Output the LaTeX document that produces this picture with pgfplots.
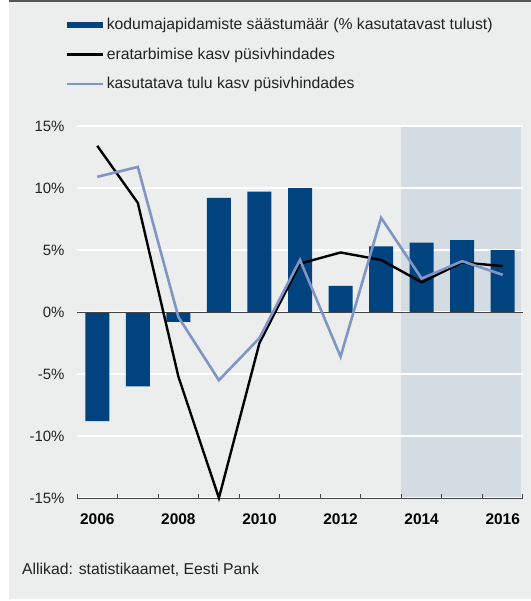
\documentclass[border=0pt]{standalone}
\usepackage{pgfplots}
\pgfplotsset{compat=1.18}
\usepackage{fontspec}
\setmainfont{Liberation Sans}
\definecolor{bgcol}{HTML}{ECEDED}
\definecolor{shadecol}{HTML}{D3DBE3}
\definecolor{barblue}{HTML}{00437F}
\definecolor{lineblue}{HTML}{8195C5}
\definecolor{topbar}{HTML}{555555}
\definecolor{axisgray}{HTML}{444444}
\definecolor{txt}{HTML}{222222}
\pgfplotsset{common/.style={
  at={(77bp,-498bp)}, anchor=south west,
  scale only axis, width=446bp, height=372bp,
  xmin=2005.5, xmax=2016.5, ymin=-15, ymax=15}}
\begin{document}
\begin{tikzpicture}[x=1bp,y=1bp]
\fill[white] (0,0) rectangle (531,-601);
\fill[bgcol] (9,-2) rectangle (531,-599);
\fill[topbar] (9,0) rectangle (531,-2.5);
% forecast band behind the grid
\begin{axis}[common, hide axis]
\fill[shadecol] (axis cs:2013.5,-15) rectangle (axis cs:2016.46,15);
\end{axis}
\begin{axis}[
  common,
  clip=false,
  axis x line*=bottom, axis y line*=left,
  x axis line style={draw=axisgray, line width=1bp, -},
  y axis line style={draw=none},
  ytick={-15,-10,-5,0,5,10,15},
  yticklabels={-15\%,-10\%,-5\%,0\%,5\%,10\%,15\%},
  ytick style={draw=none},
  yticklabel style={font=\fontsize{15}{18}\selectfont, text=txt, xshift=-9bp},
  ymajorgrids, major grid style={white, line width=1.2bp},
  xtick={2006,2008,2010,2012,2014,2016},
  xticklabels={2006,2008,2010,2012,2014,2016},
  major x tick style={draw=none},
  minor xtick={2005.5,2006.5,...,2016.5},
  minor x tick style={axisgray, line width=1bp},
  minor tick length=4bp, tick align=inside,
  xticklabel style={font=\fontsize{15.5}{18}\selectfont\bfseries, text=black, yshift=-12bp},
  legend cell align=left,
  legend style={at={(-0.0258,1.296)}, anchor=north west, draw=none, fill=none,
    inner sep=0pt, row sep=11.5bp, font=\fontsize{15.8}{18}\selectfont, text=txt,
    nodes={inner sep=2.5bp}},
]
\addplot[ybar, bar width=24bp, fill=barblue, draw=none,
  legend image code/.code={\fill[barblue] (0bp,-3bp) rectangle (36bp,3bp);}]
  coordinates {(2006,-8.8) (2007,-6.0) (2008,-0.8) (2009,9.2) (2010,9.7) (2011,10.0)
  (2012,2.1) (2013,5.3) (2014,5.6) (2015,5.8) (2016,5.0)};
\addlegendentry{kodumajapidamiste säästumäär (\% kasutatavast tulust)}
\draw[axisgray, line width=1bp] (axis cs:2005.5,0) -- (axis cs:2016.5,0);
\addplot[black, line width=2.4bp, no marks,
  legend image code/.code={\draw[black, line width=2.4bp] (0bp,0bp) -- (36bp,0bp);}]
  coordinates {(2006,13.4) (2007,8.8) (2008,-5.2) (2009,-15.0) (2010,-2.5) (2011,3.9)
  (2012,4.8) (2013,4.2) (2014,2.4) (2015,4.0) (2016,3.7)};
\addlegendentry{eratarbimise kasv püsivhindades}
\addplot[lineblue, line width=2.6bp, no marks,
  legend image code/.code={\draw[lineblue, line width=2.6bp] (0bp,0bp) -- (36bp,0bp);}]
  coordinates {(2006,10.9) (2007,11.7) (2008,-0.4) (2009,-5.5) (2010,-2.1) (2011,4.2)
  (2012,-3.6) (2013,7.6) (2014,2.7) (2015,4.1) (2016,3.0)};
\addlegendentry{kasutatava tulu kasv püsivhindades}
\end{axis}
\node[anchor=west, inner sep=0pt, font=\fontsize{15.8}{18}\selectfont, text=txt] at (22,-570) {Allikad: statistikaamet, Eesti Pank};
\end{tikzpicture}
\end{document}
